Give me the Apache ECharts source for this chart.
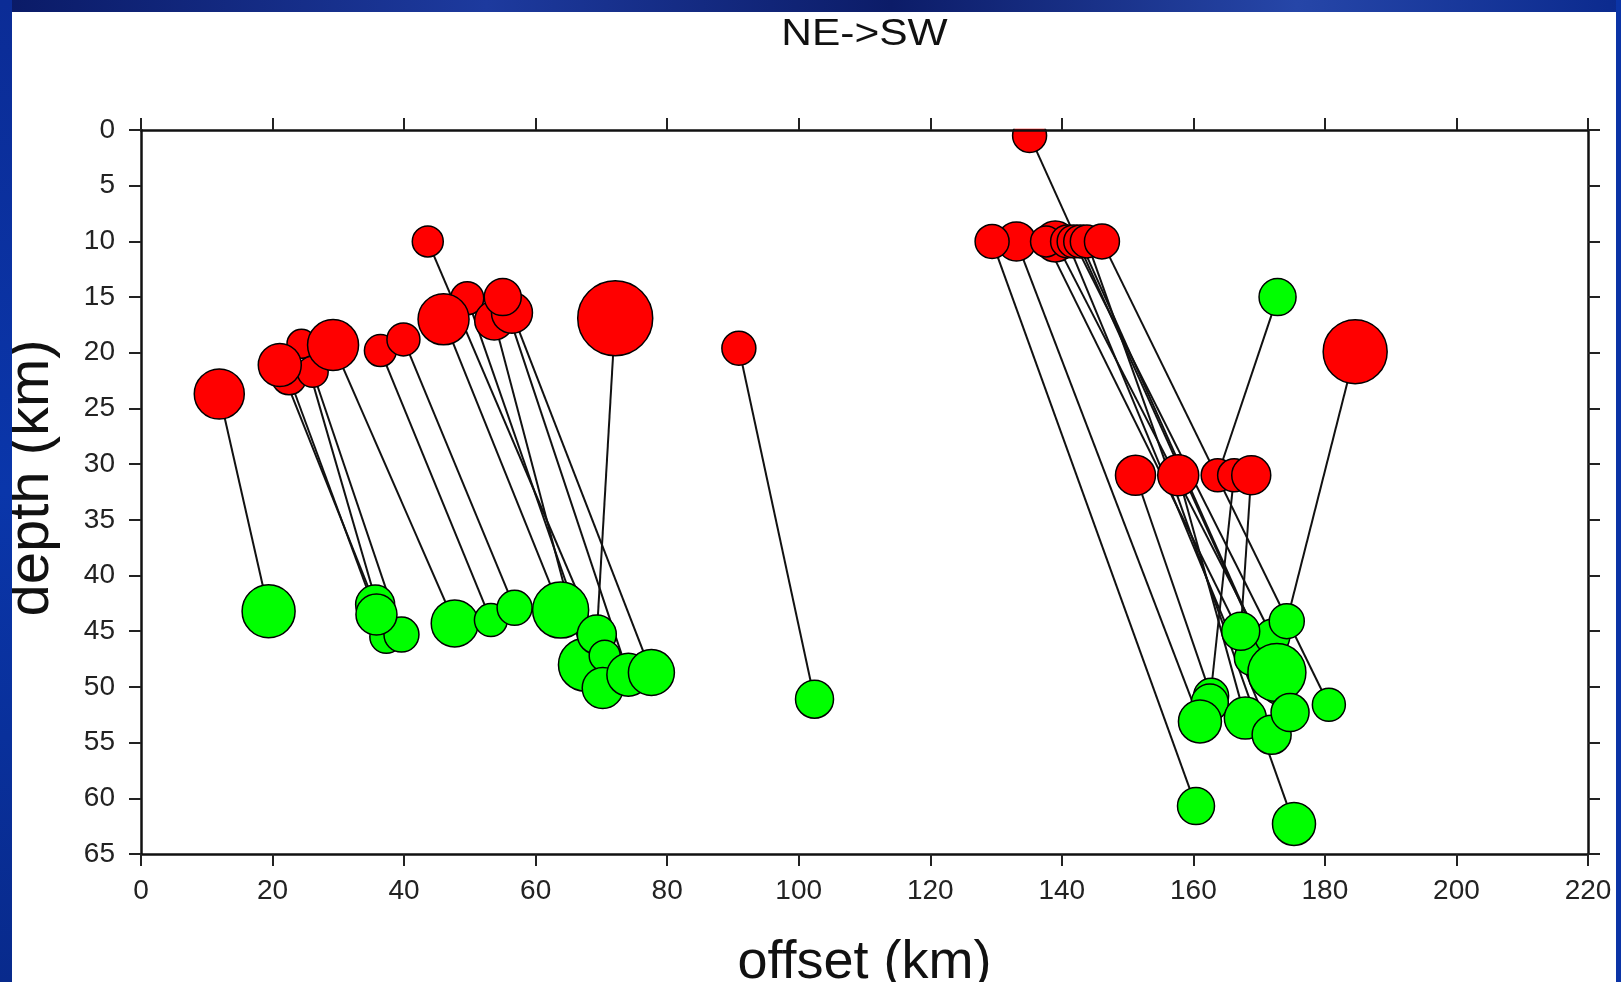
<!DOCTYPE html>
<html>
<head>
<meta charset="utf-8">
<script src="https://cdn.jsdelivr.net/npm/echarts@6/dist/echarts.min.js"></script>
<style>
html,body{margin:0;padding:0;background:#0d2a8a;}
#c{width:1621px;height:982px;}
</style>
</head>
<body>
<div id="c"></div>
<script>
// ---- data (offset km, depth km, relative event size) ----
const xTickValues = [0, 20, 40, 60, 80, 100, 120, 140, 160, 180, 200, 220];
const yTickValues = [0, 5, 10, 15, 20, 25, 30, 35, 40, 45, 50, 55, 60, 65];

// initial locations (red)
const redOffset = [11.9, 43.6, 24.4, 22.5, 26.1, 21.1, 29.2, 36.4, 39.9, 49.6, 46.0, 53.7, 56.4, 55.0, 72.1, 90.9,
                   135.1, 133.1, 129.4, 139.0, 137.6, 140.8, 141.8, 142.8, 143.8, 146.1, 151.2, 157.7, 163.7, 166.2, 168.8, 184.6];
const redDepth  = [23.7, 10.0, 19.2, 22.2, 21.7, 21.1, 19.3, 19.8, 18.8, 15.1, 17.0, 17.1, 16.4, 15.0, 16.9, 19.6,
                   0.5, 10.0, 10.0, 10.0, 10.0, 10.0, 10.0, 10.0, 10.0, 10.0, 31.0, 31.0, 31.0, 31.0, 31.0, 19.9];
const redSize   = [5.0, 3.1, 2.9, 3.5, 3.1, 4.3, 5.1, 3.2, 3.3, 3.3, 5.1, 3.9, 4.1, 3.7, 7.5, 3.4,
                   3.4, 3.9, 3.4, 4.1, 3.1, 3.3, 3.3, 3.3, 3.3, 3.5, 4.0, 4.1, 3.3, 3.3, 3.9, 6.4];

// relocated positions (green)
const greenOffset = [19.4, 35.6, 37.3, 39.6, 35.8, 47.7, 53.2, 56.8, 63.8, 67.5, 69.3, 70.5, 70.2, 74.1, 77.6, 102.4,
                     172.8, 173.0, 168.9, 172.0, 167.2, 172.7, 174.2, 162.7, 162.5, 161.0, 167.9, 171.9, 174.7, 180.6, 160.4, 175.3];
const greenDepth  = [43.2, 42.6, 45.5, 45.3, 43.5, 44.3, 44.0, 42.9, 43.1, 48.0, 45.3, 47.2, 50.1, 48.9, 48.7, 51.1,
                     15.0, 50.0, 47.4, 45.5, 45.0, 48.7, 44.1, 50.8, 51.4, 53.1, 52.8, 54.3, 52.3, 51.6, 60.7, 62.3];
const greenSize   = [5.3, 3.9, 3.3, 3.5, 4.1, 4.7, 3.3, 3.5, 5.6, 5.3, 3.9, 3.1, 4.1, 4.3, 4.6, 3.8,
                     3.7, 3.5, 3.5, 3.5, 3.8, 5.8, 3.5, 3.5, 3.7, 4.3, 4.2, 3.9, 3.8, 3.3, 3.7, 4.3];

// index of the green position belonging to each red event
const redToGreen = [0, 11, 2, 4, 3, 1, 5, 6, 7, 12, 8, 9, 14, 13, 10, 15,
                    28, 25, 30, 21, 18, 27, 19, 17, 31, 29, 23, 26, 16, 24, 20, 22];

const titleText = 'NE->SW';
const xName = 'offset (km)';
const yName = 'depth (km)';

// ---- chart ----
const FONT = "'Liberation Sans', Arial, Helvetica, sans-serif";
const SIZE_SCALE = 10;
const GRID = {left: 141, top: 130, width: 1447, height: 724};
const chart = echarts.init(document.getElementById('c'), null, {renderer: 'canvas'});

const redData = redOffset.map((x, i) => [x, redDepth[i], redSize[i]]);
const greenData = greenOffset.map((x, i) => [x, greenDepth[i], greenSize[i]]);
const linkData = redOffset.map((x, i) => {
  const g = redToGreen[i];
  return {coords: [[x, redDepth[i]], [greenOffset[g], greenDepth[g]]]};
});

const axisLine = {show: true, onZero: false, lineStyle: {color: '#111', width: 2.5}};
const axisTick = {show: true, inside: false, length: 12, lineStyle: {color: '#222', width: 2}};

const xCommon = {type: 'value', min: 0, max: 220, interval: 20, splitLine: {show: false},
                 axisLine: axisLine, axisTick: axisTick, z: 10};
const yCommon = {type: 'value', min: 0, max: 65, interval: 5, inverse: true, splitLine: {show: false},
                 axisLine: axisLine, axisTick: axisTick, z: 10};

chart.setOption({
  animation: false,
  backgroundColor: '#ffffff',
  textStyle: {fontFamily: FONT},
  grid: {left: GRID.left, top: GRID.top, width: GRID.width, height: GRID.height,
         containLabel: false, outerBoundsMode: 'none'},
  xAxis: [
    Object.assign({}, xCommon, {
      position: 'bottom',
      name: xName, nameLocation: 'middle', nameGap: 82,
      nameTextStyle: {fontFamily: FONT, fontSize: 54, color: '#111'},
      axisLabel: {show: true, margin: 23, fontSize: 28, color: '#222', fontFamily: FONT,
                  formatter: v => xTickValues.includes(v) ? String(v) : ''}
    }),
    Object.assign({}, xCommon, {position: 'top', axisLabel: {show: false}})
  ],
  yAxis: [
    Object.assign({}, yCommon, {
      position: 'left',
      name: yName, nameLocation: 'middle', nameGap: 80,
      nameTextStyle: {fontFamily: FONT, fontSize: 58, color: '#111', padding: [0, 0, 0, 28]},
      axisLabel: {show: true, margin: 26, fontSize: 28, color: '#222', fontFamily: FONT,
                  formatter: v => yTickValues.includes(v) ? String(v) : ''}
    }),
    Object.assign({}, yCommon, {position: 'right', axisLabel: {show: false}})
  ],
  graphic: [
    // blue slide border around the white panel
    {type: 'rect', silent: true, z: 20, shape: {x: 0, y: 0, width: 1621, height: 12},
     style: {fill: new echarts.graphic.LinearGradient(0, 0, 1, 0, [
       {offset: 0, color: '#0a1a66'}, {offset: 0.3, color: '#1d3a9e'}, {offset: 0.55, color: '#0c1c68'},
       {offset: 0.8, color: '#2646a8'}, {offset: 1, color: '#0b2a8e'}])}},
    {type: 'rect', silent: true, z: 20, shape: {x: 0, y: 0, width: 12, height: 982},
     style: {fill: new echarts.graphic.LinearGradient(0, 0, 0, 1, [
       {offset: 0, color: '#0b2c96'}, {offset: 0.5, color: '#0a36aa'}, {offset: 1, color: '#082a8c'}])}},
    {type: 'rect', silent: true, z: 20, shape: {x: 1616, y: 0, width: 5, height: 982},
     style: {fill: '#0b34a6'}},
    // white mask clipping symbols above the top frame
    {type: 'rect', silent: true, z: 5, shape: {x: 141, y: 60, width: 1447, height: 68.8},
     style: {fill: '#ffffff'}},
    // title, centred over the plot frame
    {type: 'text', silent: true, z: 15, x: GRID.left + GRID.width / 2, y: 35, scaleX: 1.18,
     style: {text: titleText, fontFamily: FONT, fontSize: 36, fill: '#111',
             align: 'center', verticalAlign: 'middle'}}
  ],
  series: [
    {
      type: 'lines', coordinateSystem: 'cartesian2d', xAxisIndex: 0, yAxisIndex: 0,
      silent: true, z: 1, polyline: false,
      lineStyle: {color: '#111', width: 2, opacity: 1, curveness: 0},
      data: linkData
    },
    {
      type: 'scatter', xAxisIndex: 0, yAxisIndex: 0, silent: true, z: 2,
      symbol: 'circle', symbolSize: v => v[2] * SIZE_SCALE,
      itemStyle: {color: '#ff0000', borderColor: '#000', borderWidth: 1.5, opacity: 1},
      data: redData
    },
    {
      type: 'scatter', xAxisIndex: 0, yAxisIndex: 0, silent: true, z: 3,
      symbol: 'circle', symbolSize: v => v[2] * SIZE_SCALE,
      itemStyle: {color: '#00ff00', borderColor: '#000', borderWidth: 1.5, opacity: 1},
      data: greenData
    }
  ]
});
</script>
</body>
</html>
